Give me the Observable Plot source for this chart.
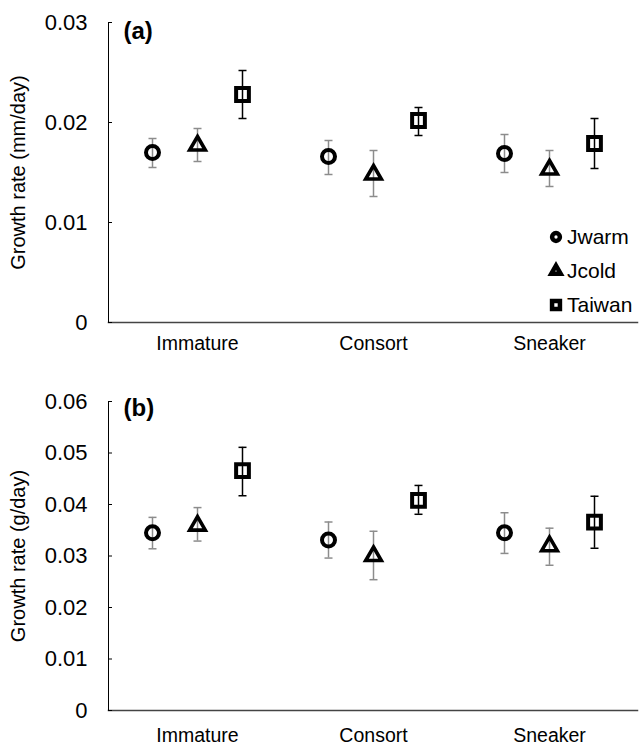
<!DOCTYPE html>
<html><head><meta charset="utf-8">
<script src="https://cdn.jsdelivr.net/npm/d3@7"></script>
<script src="https://cdn.jsdelivr.net/npm/@observablehq/plot@0.6"></script>
<style>
body{margin:0;background:#fff;font-family:"Liberation Sans",Arial,sans-serif;}
#wrap{position:relative;width:644px;}
#wrap svg{display:block;}
.legend{position:absolute;left:546px;top:220px;font-size:21px;color:#000;}
.legend .row{display:flex;align-items:center;height:34px;}
.legend svg{margin-right:1px;}
</style></head><body><div id="wrap"></div>
<script>
const categories = ["Immature", "Consort", "Sneaker"];
const series = ["Jwarm", "Jcold", "Taiwan"];

// Panel (a): growth rate in length (mm/day); rows = series, columns = categories
const lengthMean = [[0.0170, 0.0166, 0.0169], [0.0177, 0.0148, 0.0153], [0.0228, 0.0202, 0.0179]];
const lengthLow  = [[0.0155, 0.0148, 0.0150], [0.0161, 0.0126, 0.0136], [0.0204, 0.0187, 0.0154]];
const lengthHigh = [[0.0184, 0.0182, 0.0188], [0.0194, 0.0172, 0.0172], [0.0252, 0.0215, 0.0204]];
const lengthTicks = [0, 0.01, 0.02, 0.03];

// Panel (b): growth rate in mass (g/day)
const massMean = [[0.0345, 0.0331, 0.0345], [0.0359, 0.0300, 0.0319], [0.0466, 0.0408, 0.0366]];
const massLow  = [[0.0314, 0.0296, 0.0305], [0.0329, 0.0254, 0.0282], [0.0417, 0.0381, 0.0315]];
const massHigh = [[0.0375, 0.0366, 0.0384], [0.0394, 0.0348, 0.0354], [0.0511, 0.0437, 0.0416]];
const massTicks = [0, 0.01, 0.02, 0.03, 0.04, 0.05, 0.06];

// styles
const offsets = [-45, 0, 45];
const symbols = ["circle", "triangle", "square"];
const symbolR = [6.5, 5.8, 7.2];
const symbolStroke = [4, 3.6, 4];
const errColors = ["#8c8c8c", "#8c8c8c", "#000"];
const capSymbol = {draw(ctx, size) { const r = Math.sqrt(size / Math.PI); ctx.moveTo(-r, 0); ctx.lineTo(r, 0); }};

function rows(mean, low, high, i) {
  return categories.map((c, j) => ({cat: c, series: series[i], mean: mean[i][j], lo: low[i][j], hi: high[i][j]}));
}

function panel({mean, low, high, ticks, label, tag, height, marginTop, marginBottom, tickPadX, tagDy}) {
  const marks = [
    Plot.frame({anchor: "bottom", stroke: "#444", strokeWidth: 1.5}),
    Plot.frame({anchor: "left", stroke: "#000", strokeWidth: 1}),
    Plot.axisY(ticks, {tickSize: -4, tickPadding: 25, fontSize: 22,
      tickFormat: d => d === 0 ? "0" : d3.format(".2f")(d),
      label: null}),
    Plot.axisY(ticks, {tickSize: 0, tickFormat: () => "", fontSize: 20,
      label, labelAnchor: "center", labelArrow: "none", labelOffset: 98}),
    Plot.axisX({tickSize: 0, tickPadding: tickPadX, fontSize: 19.5, label: null}),
    Plot.text([tag], {frameAnchor: "top-left", dx: 15, dy: tagDy, text: d => d, fontWeight: "bold", fontSize: 24, textAnchor: "start", lineAnchor: "middle"})
  ];
  series.forEach((s, i) => {
    const data = rows(mean, low, high, i);
    marks.push(
      Plot.ruleX(data, {x: "cat", y1: "lo", y2: "hi", dx: offsets[i], stroke: errColors[i], strokeWidth: 1.5}),
      Plot.dot(data, {x: "cat", y: "lo", dx: offsets[i], symbol: capSymbol, r: 4, stroke: errColors[i], strokeWidth: 1.5}),
      Plot.dot(data, {x: "cat", y: "hi", dx: offsets[i], symbol: capSymbol, r: 4, stroke: errColors[i], strokeWidth: 1.5}),
      Plot.dot(data, {x: "cat", y: "mean", dx: offsets[i], symbol: symbols[i], r: symbolR[i], stroke: "#000", strokeWidth: symbolStroke[i], fill: "none"})
    );
  });
  return Plot.plot({
    width: 644, height, marginTop, marginBottom, marginLeft: 108, marginRight: 7,
    style: {fontFamily: "Liberation Sans, Arial, sans-serif", color: "#000", background: "#fff"},
    x: {type: "band", domain: categories, padding: 0, axis: null},
    y: {domain: [ticks[0], ticks[ticks.length - 1]], axis: null},
    marks
  });
}

const wrap = document.getElementById("wrap");
wrap.append(panel({mean: lengthMean, low: lengthLow, high: lengthHigh, ticks: lengthTicks,
  label: "Growth rate (mm/day)", tag: "(a)", height: 362, marginTop: 22, marginBottom: 40, tickPadX: 14, tagDy: 9}));
wrap.append(panel({mean: massMean, low: massLow, high: massHigh, ticks: massTicks,
  label: "Growth rate (g/day)", tag: "(b)", height: 384, marginTop: 39, marginBottom: 36, tickPadX: 18, tagDy: 7}));

// legend for panel (a)
const legend = document.createElement("div");
legend.className = "legend";
series.forEach((s, i) => {
  const row = document.createElement("div");
  row.className = "row";
  const shape = [d3.symbolCircle, d3.symbolTriangle, d3.symbolSquare][i];
  const path = d3.symbol(shape, [48, 38, 62][i])();
  row.innerHTML = `<svg width="20" height="20" viewBox="-10 -10 20 20"><path d="${path}" fill="none" stroke="#000" stroke-width="4.5"/></svg><span>${s}</span>`;
  legend.append(row);
});
wrap.append(legend);
</script>
</body></html>
